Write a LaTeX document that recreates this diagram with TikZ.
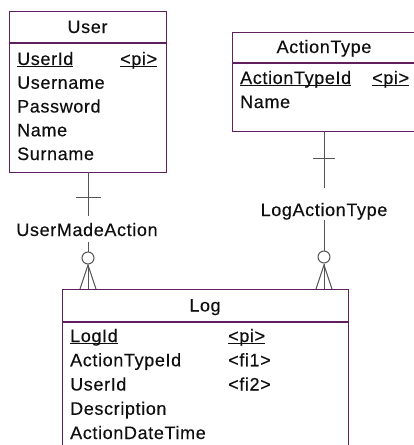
\documentclass[tikz,border=0pt]{standalone}
\usepackage{fontspec}
\setmainfont{Liberation Sans}[LetterSpace=3.5,FakeBold=0.3]
\definecolor{entc}{RGB}{96,32,96}
\definecolor{connc}{RGB}{85,85,85}
\definecolor{txtc}{RGB}{15,15,15}
\newcommand\myul[1]{\setbox0\hbox{#1}\rlap{\rule[-2.3pt]{\wd0}{1pt}}\box0}
\begin{document}
\begin{tikzpicture}[x=1pt,y=-1pt,
  font=\fontsize{18}{24}\selectfont,
  entity/.style={draw=entc, line width=1.2pt, inner sep=0pt, anchor=north west},
  divider/.style={draw=entc, line width=1.2pt},
  attr/.style={inner sep=0pt, anchor=base west, text=txtc},
  title/.style={inner sep=0pt, anchor=base, text=txtc},
  conn/.style={draw=connc, line width=1pt},
  rellabel/.style={inner sep=0pt, anchor=base, text=txtc},
  opt/.style={circle, draw=connc, line width=1pt, fill=white, minimum size=12pt, inner sep=0pt}]
\useasboundingbox (0,0) rectangle (414,445);
\begin{scope}
\clip (0,0) rectangle (414,445);
% entities
\node[entity, minimum width=157pt, minimum height=161pt] (user) at (9,11) {};
\node[entity, minimum width=184pt, minimum height=99pt] (atype) at (232,32) {};
\node[entity, minimum width=286pt, minimum height=180pt] (log) at (62,289) {};
\draw[divider] (9,43) -- (166,43);
\draw[divider] (232,63) -- (416,63);
\draw[divider] (62,322) -- (348,322);
% User
\node[title] (ut) at (87.5,33) {User};
\node[attr] (u1) at (17,65) {\myul{UserId}};
\node[attr] (u1k) at (120,65) {\myul{<pi>}};
\node[attr] (u2) at (17,88.75) {Username};
\node[attr] (u3) at (17,112.5) {Password};
\node[attr] (u4) at (17,136.25) {Name};
\node[attr] (u5) at (17,160) {Surname};
% ActionType
\node[title] (at) at (324,53) {ActionType};
\node[attr] (a1) at (240,84) {\myul{ActionTypeId}};
\node[attr] (a1k) at (372,84) {\myul{<pi>}};
\node[attr] (a2) at (240,108) {Name};
% Log
\node[title] (lt) at (205,311.5) {Log};
\node[attr] (l1) at (70,342) {\myul{LogId}};
\node[attr] (l1k) at (228,342) {\myul{<pi>}};
\node[attr] (l2) at (70,366.25) {ActionTypeId};
\node[attr] (l2k) at (228,366.25) {<fi1>};
\node[attr] (l3) at (70,390.5) {UserId};
\node[attr] (l3k) at (228,390.5) {<fi2>};
\node[attr] (l4) at (70,414.75) {Description};
\node[attr] (l5) at (70,439) {ActionDateTime};
% relationship UserMadeAction
\coordinate (us) at (88,172);
\coordinate (uf) at (88,289);
\node[rellabel] (lum) at (87,236) {UserMadeAction};
\node[opt] (cu) at (88,258) {};
\draw[conn] (us) -- ([yshift=7pt]us |- lum.north);
\draw[conn] ([yshift=-6pt]us |- lum.base) -- (cu.north);
\draw[conn] (cu.south) -- (uf);
\draw[conn] (us) ++(-12.5,25) -- ++(25,0);
\draw[conn] (uf) ++(-8,0) -- ++(8,-24) -- ++(8,24);
% relationship LogActionType
\coordinate (as) at (324,131);
\coordinate (af) at (324,289);
\node[rellabel] (lla) at (324,216) {LogActionType};
\node[opt] (ca) at (324,257) {};
\draw[conn] (as) -- ([yshift=15pt]as |- lla.north);
\draw[conn] ([yshift=-4pt]as |- lla.base) -- (ca.north);
\draw[conn] (ca.south) -- (af);
\draw[conn] (as) ++(-11,27) -- ++(22,0);
\draw[conn] (af) ++(-8,0) -- ++(8,-24) -- ++(8,24);
\end{scope}
\end{tikzpicture}
\end{document}
